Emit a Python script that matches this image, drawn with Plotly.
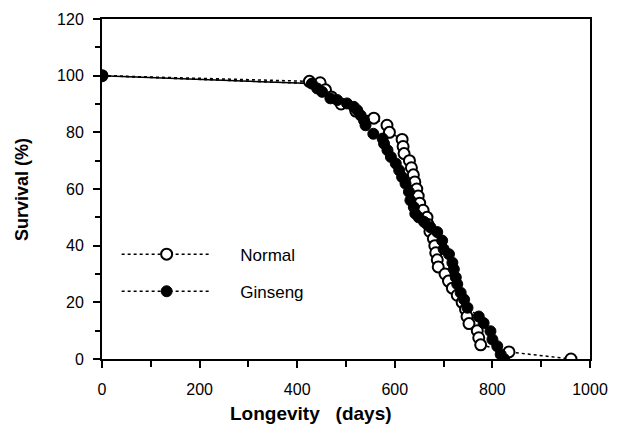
import plotly.graph_objects as go

# Survival curves (days, % surviving)
normal_days = [0, 425, 447, 458, 470, 490, 520, 557, 584, 589, 615, 617, 619, 630, 634,
               638, 641, 645, 648, 651, 658, 666, 668, 672, 679, 682, 684, 687, 689, 703,
               710, 718, 728, 738, 745, 748, 752, 769, 772, 776, 834, 961]
normal_surv = [100, 98, 97.5, 95, 92.5, 90, 87.5, 85, 82.5, 80, 77.5, 75, 72.5, 70, 67.5,
               65, 62.5, 60, 57.5, 55, 52.5, 50, 47.5, 45, 42.5, 40, 37.5, 35, 32.5, 30,
               27.5, 25, 22.5, 20, 17.5, 15, 12.5, 10, 7.5, 5, 2.5, 0]

ginseng_days = [0, 430, 441, 451, 468, 482, 502, 516, 523, 530, 537, 540, 556, 575, 578,
                585, 592, 602, 609, 615, 622, 629, 632, 639, 642, 649, 660, 673, 687, 697,
                700, 711, 718, 721, 725, 728, 735, 742, 749, 772, 782, 796, 800, 810, 817, 824]
ginseng_surv = [100, 97.2, 95.5, 94.3, 92, 91.4, 90.2, 89, 87.8, 86, 84.2, 82.5, 79.5, 77.8, 76,
                73.7, 71.3, 69, 66.6, 64.2, 61.9, 59, 56, 53.6, 51.3, 50, 48.4, 46.5, 44.8, 41.8,
                38.8, 37, 34, 31.7, 28.8, 26.4, 23.4, 21, 18.1, 15, 12.7, 9.8, 6.9, 4.5, 1.6, 0]

FONT = "Liberation Sans, Arial, sans-serif"
PAD = "\u00a0" * 5

fig = go.Figure()
# the two curves overlap before the first death, which prints as a solid run
fig.add_trace(go.Scatter(
    x=ginseng_days[:2], y=ginseng_surv[:2], mode="lines", showlegend=False,
    line=dict(color="black", width=1.5), hoverinfo="skip",
))
fig.add_trace(go.Scatter(
    x=normal_days, y=normal_surv, name=PAD + "Normal", mode="lines+markers",
    legendgroup="n",
    line=dict(color="black", width=1.5, dash="dot"),
    marker=dict(symbol="circle", size=11, color="white",
                line=dict(color="black", width=2)),
))
fig.add_trace(go.Scatter(
    x=ginseng_days, y=ginseng_surv, name=PAD + "Ginseng", mode="lines+markers",
    legendgroup="g",
    line=dict(color="black", width=1.5, dash="dot"),
    marker=dict(symbol="circle", size=11, color="black",
                line=dict(color="black", width=1)),
))

axis_common = dict(
    showline=True, linecolor="black", linewidth=2, mirror=True,
    ticks="outside", tickcolor="black", tickwidth=2, ticklen=7,
    showgrid=False, zeroline=False, automargin=False,
    tickfont=dict(family=FONT, size=16, color="black"),
)

fig.update_xaxes(
    range=[0, 1000], tick0=0, dtick=200, ticklabelstandoff=8,
    minor=dict(ticks="outside", dtick=100, ticklen=6, tickcolor="black", tickwidth=2),
    **axis_common,
)
fig.update_yaxes(
    range=[0, 120], tick0=0, dtick=20, ticklabelstandoff=6,
    minor=dict(ticks="outside", dtick=10, ticklen=5, tickcolor="black", tickwidth=2),
    **axis_common,
)

fig.add_annotation(
    text="<b>Longevity\u00a0\u00a0\u00a0(days)</b>", xref="paper", yref="paper",
    x=0.428, y=-0.16, xanchor="center", yanchor="middle", showarrow=False,
    font=dict(family=FONT, size=19, color="black"),
)
fig.add_annotation(
    text="<b>Survival (%)</b>", xref="paper", yref="paper", textangle=-90,
    x=-0.164, y=0.5, xanchor="center", yanchor="middle", showarrow=False,
    font=dict(family=FONT, size=18, color="black"),
)

# the page body adds an 8px offset, so margins are shifted to land the frame in place
fig.update_layout(
    width=617, height=430,
    margin=dict(l=94, r=35, t=11, b=79),
    plot_bgcolor="white", paper_bgcolor="white",
    legend=dict(
        x=0.03, y=0.36, xanchor="left", yanchor="top",
        bgcolor="rgba(0,0,0,0)", itemwidth=90, tracegroupgap=12,
        font=dict(family=FONT, size=17, color="black"),
    ),
)

fig.write_html("out.html")
